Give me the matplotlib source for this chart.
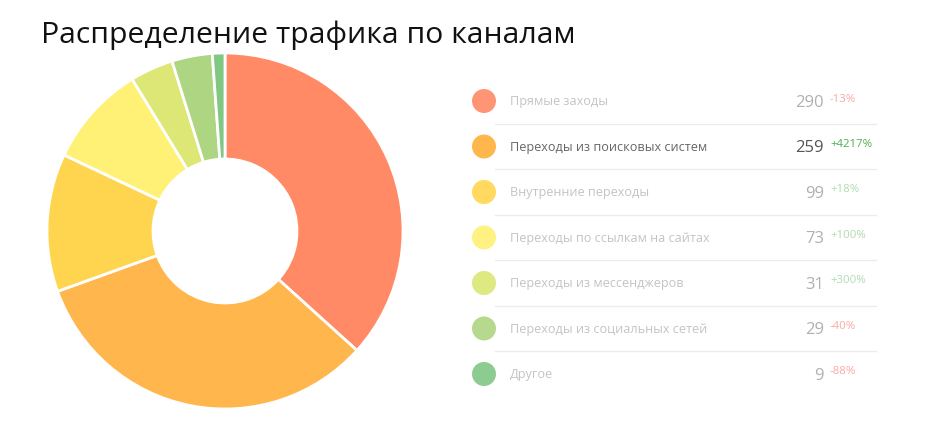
import matplotlib
matplotlib.use("Agg")
import matplotlib.pyplot as plt
from matplotlib.patches import Circle

plt.rcParams['font.family'] = ['Open Sans', 'DejaVu Sans']

title = "Распределение трафика по каналам"
categories = ["Прямые заходы", "Переходы из поисковых систем", "Внутренние переходы",
              "Переходы по ссылкам на сайтах", "Переходы из мессенджеров",
              "Переходы из социальных сетей", "Другое"]
values = [290, 259, 99, 73, 31, 29, 9]
changes = ["-13%", "+4217%", "+18%", "+100%", "+300%", "-40%", "-88%"]
colors = ["#FF8A65", "#FFB74D", "#FFD54F", "#FFF176", "#DCE775", "#AED581", "#81C784"]
# rows that are blurred in the reference are drawn faded
faded = [True, False, True, True, True, True, True]

W, H = 942, 435
fig = plt.figure(figsize=(W / 100, H / 100), dpi=100)

fig.text(41 / W, 1 - 35 / H, title, fontsize=21.7, color="#111111", va="center", ha="left")

# donut
cx, cy, R = 225, 232, 178
ax = fig.add_axes([(cx - 180) / W, (H - cy - 180) / H, 360 / W, 360 / H])
ax.pie(values, colors=colors, startangle=90, counterclock=False, radius=R,
       wedgeprops=dict(width=106, edgecolor="white", linewidth=2))
ax.set_xlim(-180, 180)
ax.set_ylim(-180, 180)
ax.set_aspect("equal")
ax.axis("off")

# legend table
lg = fig.add_axes([0, 0, 1, 1])
lg.set_xlim(0, W)
lg.set_ylim(H, 0)
lg.axis("off")
y0, dy = 102, 45.5
for i, (cat, v, ch, col) in enumerate(zip(categories, values, changes, colors)):
    y = y0 + i * dy
    lg.add_patch(Circle((484, y), 12, color=col, alpha=0.9 if faded[i] else 1.0, lw=0))
    tcol = "#c4c4c4" if faded[i] else "#666666"
    vcol = "#b0b0b0" if faded[i] else "#555555"
    lg.text(510, y, cat, fontsize=9.1, color=tcol, va="center", ha="left")
    lg.text(824, y + 1, str(v), fontsize=12, color=vcol, va="center", ha="right")
    ccol = "#4CAF50" if ch.startswith("+") else "#F44336"
    lg.text(830, y - 3, ch, fontsize=8.2, color=ccol, va="center", ha="left",
            alpha=0.45 if faded[i] else 1.0)
    if i < len(values) - 1:
        lg.plot([495, 876], [y + dy / 2, y + dy / 2], color="#ececec", lw=1)

fig.savefig("out.png", dpi=100, facecolor="white")
